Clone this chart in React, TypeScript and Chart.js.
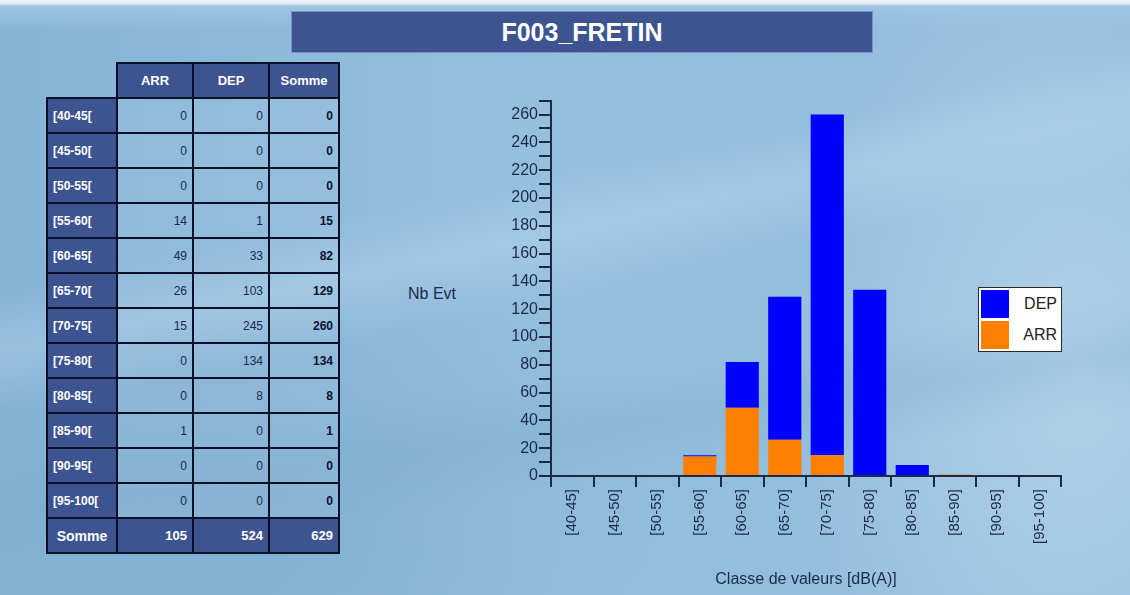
import React, { useEffect, useRef } from "react";
import { Chart, registerables } from "chart.js";

Chart.register(...registerables);

const TITLE = "F003_FRETIN";
const categories = ["[40-45[", "[45-50[", "[50-55[", "[55-60[", "[60-65[", "[65-70[", "[70-75[", "[75-80[", "[80-85[", "[85-90[", "[90-95[", "[95-100["];
const axisLabels = ["[40-45]", "[45-50]", "[50-55]", "[55-60]", "[60-65]", "[65-70]", "[70-75]", "[75-80]", "[80-85]", "[85-90]", "[90-95]", "[95-100]"];
const arrValues = [0, 0, 0, 14, 49, 26, 15, 0, 0, 1, 0, 0];
const depValues = [0, 0, 0, 1, 33, 103, 245, 134, 8, 0, 0, 0];
const tableHeaders = ["ARR", "DEP", "Somme"];
const seriesNames = ["ARR", "DEP"];
const seriesColors = ["#ff8000", "#0000ff"];
const yTitle = "Nb Evt";
const xTitle = "Classe de valeurs [dB(A)]";

const NAVY = "#3d5491";
const BORDER = "#0b0f2a";
const TEXT = "#1c2a48";
const FONT = "Arial, 'Liberation Sans', sans-serif";

const colX = [47, 117, 193, 269, 339];
const headerTop = 63;
const rowH = 35;

function Cell(props: { x0: number; x1: number; y0: number; y1: number; bg?: string; color: string; bold?: boolean; size: number; align: string; children: any }) {
  const { x0, x1, y0, y1, bg, color, bold, size, align, children } = props;
  return (
    <div
      style={{
        position: "absolute",
        left: x0 - 1,
        top: y0 - 1,
        width: x1 - x0 + 2,
        height: y1 - y0 + 2,
        boxSizing: "border-box",
        border: `2px solid ${BORDER}`,
        background: bg || "rgba(255,255,255,0.06)",
        color,
        fontWeight: bold ? "bold" : "normal",
        fontSize: size,
        fontFamily: FONT,
        display: "flex",
        alignItems: "center",
        justifyContent: align === "left" ? "flex-start" : align === "center" ? "center" : "flex-end",
        padding: "0 5px",
      }}
    >
      {children}
    </div>
  );
}

function DataTable() {
  const cells: any[] = [];
  tableHeaders.forEach((h, i) => {
    cells.push(
      <Cell key={"h" + i} x0={colX[i + 1]} x1={colX[i + 2]} y0={headerTop} y1={headerTop + rowH} bg={NAVY} color="#fff" bold size={13} align="center">
        {h}
      </Cell>
    );
  });
  categories.forEach((c, r) => {
    const y0 = headerTop + rowH * (r + 1);
    const y1 = y0 + rowH;
    const vals = [arrValues[r], depValues[r], arrValues[r] + depValues[r]];
    cells.push(
      <Cell key={"l" + r} x0={colX[0]} x1={colX[1]} y0={y0} y1={y1} bg={NAVY} color="#fff" bold size={12} align="left">
        {c}
      </Cell>
    );
    vals.forEach((v, i) => {
      cells.push(
        <Cell key={"d" + r + "_" + i} x0={colX[i + 1]} x1={colX[i + 2]} y0={y0} y1={y1} color={i === 2 ? "#0a1230" : "#1a2a55"} bold={i === 2} size={12} align="right">
          {v}
        </Cell>
      );
    });
  });
  const fy0 = headerTop + rowH * (categories.length + 1);
  const fy1 = fy0 + rowH;
  const sArr = arrValues.reduce((a, b) => a + b, 0);
  const sDep = depValues.reduce((a, b) => a + b, 0);
  const totals = [sArr, sDep, sArr + sDep];
  cells.push(
    <Cell key="fl" x0={colX[0]} x1={colX[1]} y0={fy0} y1={fy1} bg={NAVY} color="#fff" bold size={14} align="center">
      Somme
    </Cell>
  );
  totals.forEach((v, i) => {
    cells.push(
      <Cell key={"f" + i} x0={colX[i + 1]} x1={colX[i + 2]} y0={fy0} y1={fy1} bg={NAVY} color="#fff" bold size={13} align="right">
        {v}
      </Cell>
    );
  });
  return <>{cells}</>;
}

export default function App() {
  const canvasRef = useRef<HTMLCanvasElement | null>(null);

  useEffect(() => {
    document.body.style.margin = "0";
    const canvas = canvasRef.current;
    if (!canvas) return;
    const chart = new Chart(canvas, {
      type: "bar",
      data: {
        labels: axisLabels,
        datasets: [
          { label: seriesNames[0], data: arrValues, backgroundColor: seriesColors[0], borderWidth: 0, barPercentage: 0.78, categoryPercentage: 1 },
          { label: seriesNames[1], data: depValues, backgroundColor: seriesColors[1], borderWidth: 0, barPercentage: 0.78, categoryPercentage: 1 },
        ],
      },
      options: {
        responsive: false,
        animation: false,
        devicePixelRatio: 1,
        layout: { padding: { top: 8, right: 19, left: 0, bottom: 0 } },
        plugins: { legend: { display: false }, tooltip: { enabled: false }, title: { display: false } },
        scales: {
          x: {
            stacked: true,
            offset: true,
            grid: { display: true, drawOnChartArea: false, drawTicks: true, tickLength: 11, color: TEXT, lineWidth: 2, offset: true },
            border: { display: true, color: TEXT, width: 2 },
            ticks: { minRotation: 90, maxRotation: 90, autoSkip: false, color: TEXT, font: { size: 15, family: FONT }, padding: 2 },
            afterFit: (s: any) => {
              s.height = 119;
            },
          },
          y: {
            stacked: true,
            min: 0,
            max: 270,
            grid: { display: true, drawOnChartArea: false, drawTicks: true, tickLength: 12, color: TEXT, lineWidth: 2 },
            border: { display: true, color: TEXT, width: 2 },
            ticks: {
              stepSize: 10,
              autoSkip: false,
              color: TEXT,
              font: { size: 16, family: FONT },
              padding: 1,
              callback: (v: any) => (Number(v) % 20 === 0 ? String(v) : ""),
            },
            afterFit: (s: any) => {
              s.width = 71;
            },
          },
        },
      },
    });
    return () => chart.destroy();
  }, []);

  const legendItems = [1, 0];

  return (
    <div
      style={{
        position: "fixed",
        left: 0,
        top: 0,
        width: 1130,
        height: 595,
        overflow: "hidden",
        fontFamily: FONT,
        background:
          "linear-gradient(180deg, #eef4fa 0px, #dfeaf5 4px, #9ec5e2 6px, rgba(0,0,0,0) 30px)," +
          "linear-gradient(168deg, rgba(0,0,0,0) 35%, rgba(190,220,240,0.35) 42%, rgba(0,0,0,0) 50%)," +
          "linear-gradient(172deg, rgba(0,0,0,0) 60%, rgba(120,165,200,0.25) 68%, rgba(0,0,0,0) 76%)," +
          "radial-gradient(ellipse 300px 500px at 1080px 380px, rgba(220,235,248,0.45), rgba(0,0,0,0))," +
          "radial-gradient(ellipse 500px 300px at 250px 520px, rgba(110,160,200,0.35), rgba(0,0,0,0))," +
          "linear-gradient(90deg, #86b4d5 0%, #95c0de 50%, #8fbbda 100%)",
      }}
    >
      <div
        style={{
          position: "absolute",
          left: 291,
          top: 11,
          width: 582,
          height: 42,
          boxSizing: "border-box",
          background: NAVY,
          border: "1px solid #7b90c4",
          color: "#fff",
          fontWeight: "bold",
          fontSize: 25,
          display: "flex",
          alignItems: "center",
          justifyContent: "center",
          fontFamily: FONT,
        }}
      >
        {TITLE}
      </div>
      <DataTable />
      <canvas ref={canvasRef} width={600} height={505} style={{ position: "absolute", left: 480, top: 90, width: 600, height: 505 }} />
      <div style={{ position: "absolute", left: 408, top: 285, fontSize: 16, color: TEXT, whiteSpace: "nowrap" }}>{yTitle}</div>
      <div style={{ position: "absolute", left: 606, width: 400, top: 570, textAlign: "center", fontSize: 16, color: TEXT, whiteSpace: "nowrap" }}>{xTitle}</div>
      <div
        style={{
          position: "absolute",
          left: 978,
          top: 287,
          width: 84,
          height: 65,
          boxSizing: "border-box",
          background: "#fff",
          border: "1px solid #2a2a2a",
        }}
      >
        {legendItems.map((idx, k) => (
          <div key={k} style={{ position: "absolute", left: 2, top: 2 + k * 31, width: 78, height: 28 }}>
            <div style={{ position: "absolute", left: 0, top: 0, width: 28, height: 28, background: seriesColors[idx] }} />
            <div style={{ position: "absolute", right: 2, top: 4, fontSize: 16, color: "#222", lineHeight: "20px" }}>{seriesNames[idx]}</div>
          </div>
        ))}
      </div>
    </div>
  );
}
